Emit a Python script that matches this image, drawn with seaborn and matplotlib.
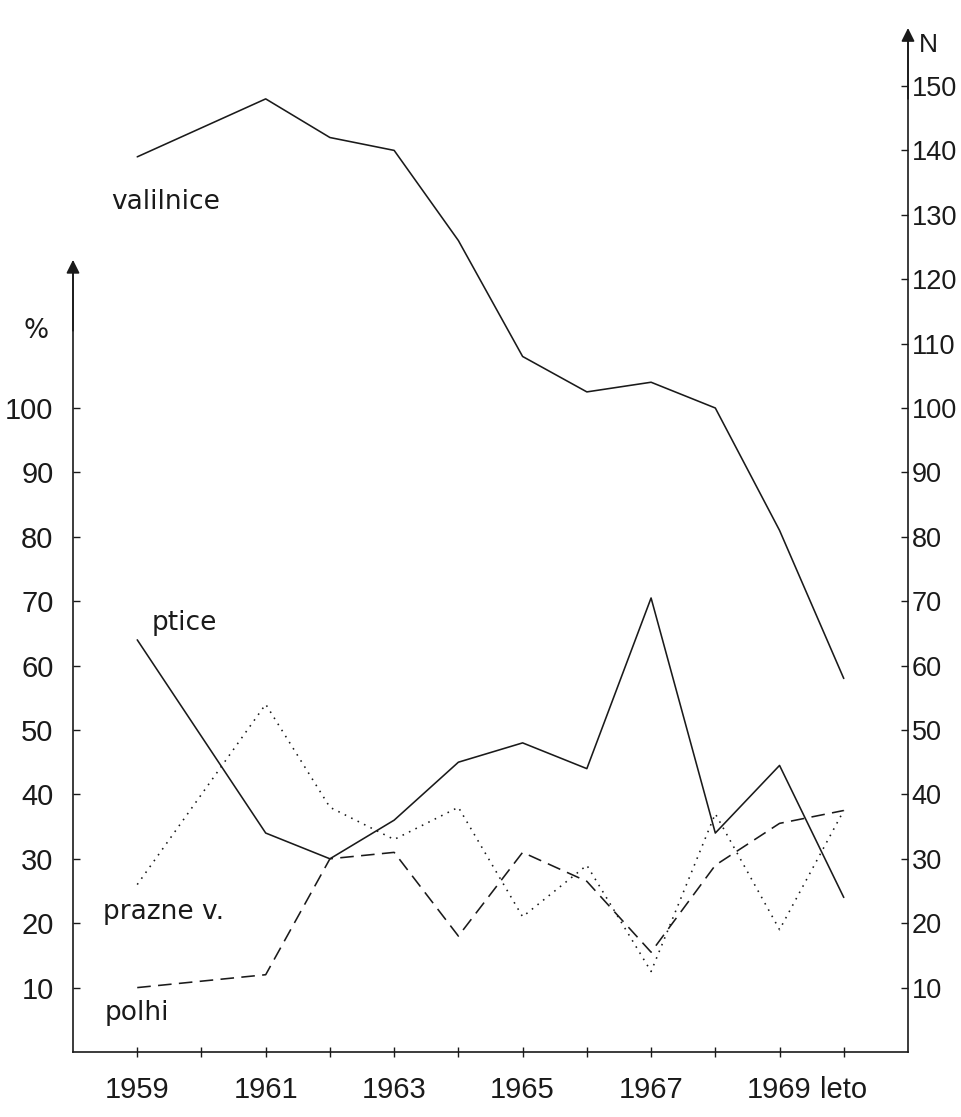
import matplotlib
matplotlib.use("Agg")
import numpy as np
import pandas as pd
import matplotlib.pyplot as plt
import seaborn as sns
from matplotlib import font_manager

# ====== DATA ======
years = [1959, 1960, 1961, 1962, 1963, 1964, 1965, 1966, 1967, 1968, 1969, 1970]
year_labels = ["1959", "", "1961", "", "1963", "", "1965", "", "1967", "", "1969", "leto"]

# N (right axis)
valilnice = [139, 143.5, 148, 142, 140, 126, 108, 102.5, 104, 100, 81, 58]

# % (left axis)
ptice = [64, 49, 34, 30, 36, 45, 48, 44, 70.5, 34, 44.5, 24]
polhi = [10, 11, 12, 30, 31, 18, 31, 26.5, 15.5, 29, 35.5, 37.5]
prazne = [26, 40, 54, 38, 33, 38, 21, 29, 12.5, 37, 19, 37.5]

left_ticks = list(range(10, 101, 10))
right_ticks = list(range(10, 151, 10))

INK = "#1a1a1a"

# ====== STYLE ======
sns.set_theme(style="white")
names = {f.name for f in font_manager.fontManager.ttflist}
tick_font = "Liberation Sans Narrow" if "Liberation Sans Narrow" in names else "Liberation Sans"
plt.rcParams["font.family"] = [tick_font, "DejaVu Sans"]
plt.rcParams["text.color"] = INK

fig = plt.figure(figsize=(9.62, 11.17), dpi=100)
fig.patch.set_facecolor("white")
ax = fig.add_axes([73 / 962, 1 - 1052 / 1117, (908 - 73) / 962, 1052 / 1117])
ax.set_facecolor("none")

df = pd.DataFrame({
    "leto": years * 3,
    "vrednost": ptice + polhi + prazne,
    "serija": ["ptice"] * 12 + ["polhi"] * 12 + ["prazne v."] * 12,
})

sns.lineplot(data=df, x="leto", y="vrednost", style="serija",
             dashes={"ptice": "", "polhi": (8.5, 4.6), "prazne v.": (1, 3.5)},
             color=INK, linewidth=1.15, legend=False, ax=ax)

ax2 = ax.twinx()
sns.lineplot(x=years, y=valilnice, color=INK, linewidth=1.15, legend=False, ax=ax2)

ymax = 1052 / 6.44
for a in (ax, ax2):
    a.set_xlim(1958, 1971)
    a.set_ylim(0, ymax)
    a.set_xlabel("")
    a.set_ylabel("")
    a.grid(False)

# spines
ax.spines["top"].set_visible(False)
ax.spines["right"].set_visible(False)
ax.spines["left"].set_bounds(0, 122)
ax2.spines["top"].set_visible(False)
ax2.spines["left"].set_visible(False)
ax2.spines["bottom"].set_visible(False)
ax2.spines["right"].set_bounds(0, 158)
for a in (ax, ax2):
    for s in a.spines.values():
        s.set_color(INK)
        s.set_linewidth(1.2)

# ticks
ax.set_xticks(years)
ax.set_xticklabels(year_labels)
ax.set_yticks(left_ticks)
ax2.set_yticks(right_ticks)
ax.tick_params(axis="x", direction="inout", length=7, width=1, colors=INK,
               labelsize=21, pad=14, bottom=True)
ax.tick_params(axis="y", direction="in", length=5, width=1, colors=INK,
               labelsize=21, pad=14, left=True)
ax2.tick_params(axis="y", direction="in", length=5, width=1, colors=INK,
                labelsize=19.5, pad=2.5, right=True)

# arrow heads on the axes
arrow = dict(arrowstyle="-|>", color=INK, lw=1.2, mutation_scale=20, shrinkA=0, shrinkB=0)
ax.annotate("", xy=(1958, 123), xytext=(1958, 112), arrowprops=arrow, annotation_clip=False)
ax2.annotate("", xy=(1971, 159), xytext=(1971, 148), arrowprops=arrow, annotation_clip=False)

# axis names and series labels
ax.text(1957.42, 112, "%", fontsize=19, ha="center", va="center", family=["DejaVu Sans"])
ax2.text(1971.32, 156.4, "N", fontsize=19, ha="center", va="center")

lab = dict(fontsize=19, ha="left", va="center", family=["DejaVu Sans"], color=INK)
ax2.text(1958.6, 132, "valilnice", **lab)
ax.text(1959.23, 66.6, "ptice", **lab)
ax.text(1958.47, 21.8, "prazne v.", **lab)
ax.text(1958.5, 6, "polhi", **lab)

fig.savefig("out.png", dpi=100, facecolor="white")
